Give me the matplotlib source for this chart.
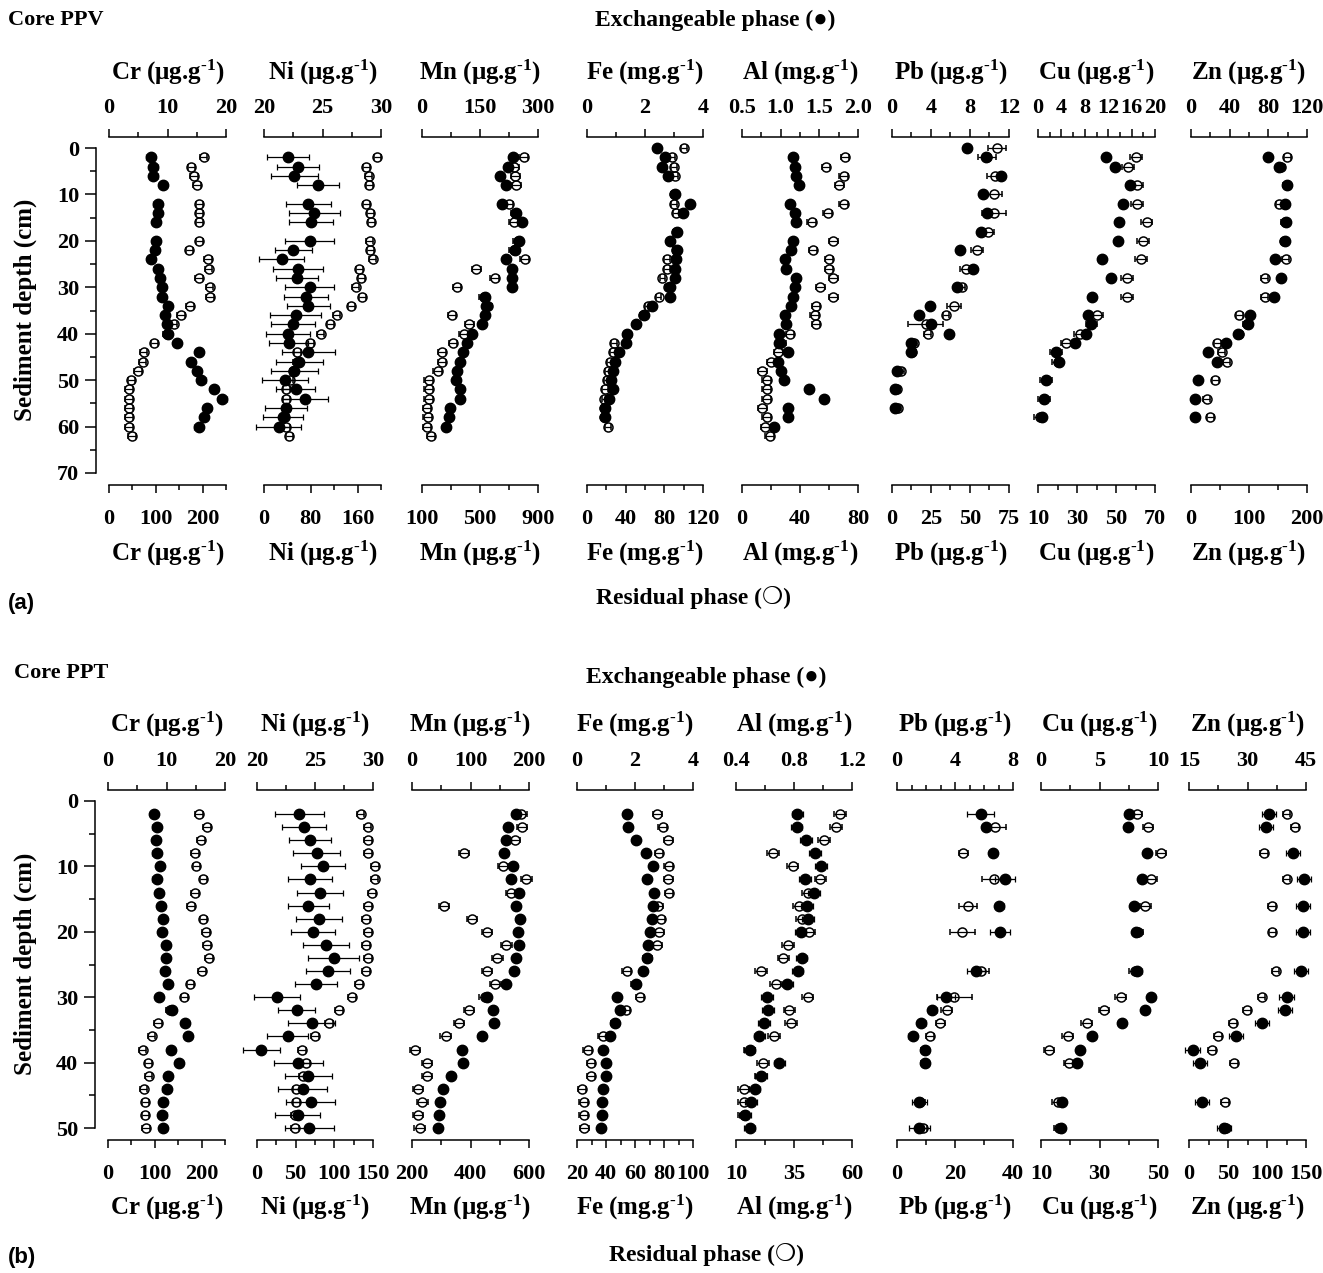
import numpy as np
import matplotlib
matplotlib.use("Agg")
import matplotlib.pyplot as plt

W, H = 1323, 1273
plt.rcParams['font.family'] = ['Liberation Serif', 'DejaVu Sans']
plt.rcParams['font.weight'] = 'bold'
plt.rcParams['mathtext.default'] = 'regular'

# ------------------------- DATA : Core PPV (a) -------------------------
A_DEPTH_STD = [2, 4, 6, 8, 12, 14, 16, 20, 22, 24, 26, 28, 30, 32, 34, 36, 38, 40,
               42, 44, 46, 48, 50, 52, 54, 56, 58, 60]
A_DEPTH_STD_RES = A_DEPTH_STD + [62]
A_DEPTH_FE = [0, 2, 4, 6, 10, 12, 14, 18, 20, 22, 24, 26, 28, 30, 32, 34, 36, 38,
              40, 42, 44, 46, 48, 50, 52, 54, 56, 58]
A_DEPTH_FE_RES = A_DEPTH_FE + [60]
A_DEPTH_PB = [0, 2, 6, 10, 14, 18, 22, 26, 30, 34, 36, 38, 40, 42, 44, 48, 52, 56]
A_DEPTH_CUZN = [2, 4, 8, 12, 16, 20, 24, 28, 32, 36, 38, 40, 42, 44, 46, 50, 54, 58]

A_CR_EX = [7.1, 7.6, 7.6, 9.2, 8.3, 8.4, 8.1, 8.0, 7.9, 7.2, 8.4, 8.7, 9.0, 9.1, 10.1, 9.6,
           9.9, 10.0, 11.6, 15.4, 14.0, 15.0, 15.8, 18.0, 19.4, 16.7, 16.3, 15.3]
A_CR_RES = [202, 176, 182, 188, 193, 193, 193, 193, 172, 212, 213, 192, 215, 216, 173, 154,
            138, 123, 97, 74, 72, 62, 48, 43, 43, 43, 43, 43, 49]
A_NI_EX = [22.05, 22.9, 22.6, 24.6, 23.8, 24.3, 24.0, 23.9, 22.5, 21.5, 22.9, 22.8, 23.9,
           23.6, 23.8, 22.7, 22.5, 22.05, 22.1, 23.8, 23.0, 22.6, 21.8, 22.7, 23.5, 21.9,
           21.65, 21.25]
A_NI_EX_ERR = [1.8, 1.8, 2.0, 1.8, 1.95, 2.2, 1.9, 2.1, 1.6, 1.9, 2.1, 1.8, 2.1, 1.9, 1.8,
               2.2, 1.9, 1.9, 1.7, 2.3, 2.0, 2.0, 2.0, 1.7, 1.95, 1.8, 1.7, 1.9]
A_NI_RES = [194, 175, 179, 180, 175, 182, 183, 181, 182, 186, 163, 166, 157, 168, 149, 124,
            113, 97, 79, 57, 56, 50, 44, 38, 38, 38, 36, 38, 43]
A_MN_EX = [235, 222, 203, 216, 207, 244, 259, 250, 240, 218, 233, 233, 234, 164, 166, 164,
           155, 129, 116, 105, 97, 91, 89, 99, 97, 73, 69, 63]
A_MN_RES = [801, 737, 744, 751, 698, 744, 732, 760, 732, 808, 475, 601, 341, 525, 553, 307,
            426, 387, 314, 238, 238, 208, 146, 146, 146, 134, 139, 134, 162]
A_FE_EX = [2.41, 2.68, 2.59, 2.79, 3.05, 3.54, 3.31, 3.10, 2.87, 3.10, 3.08, 3.02, 3.02, 2.85,
           2.85, 2.24, 1.95, 1.69, 1.38, 1.34, 1.09, 0.98, 0.89, 0.83, 0.89, 0.75, 0.63, 0.63]
A_FE_RES = [100, 88, 90, 91, 90, 90, 92, 92, 86, 92, 83, 83, 78, 84, 74, 63, 58, 51, 41, 28,
            27, 24, 22, 21, 19, 18, 18, 18, 22]
A_AL_EX = [1.16, 1.19, 1.20, 1.24, 1.12, 1.19, 1.20, 1.16, 1.13, 1.05, 1.07, 1.20, 1.18, 1.16,
           1.13, 1.05, 1.07, 0.98, 0.98, 1.10, 0.96, 1.00, 1.04, 1.37, 1.56, 1.09, 1.10, 0.91]
A_AL_RES = [71, 58, 70, 67, 70, 59, 48, 63, 49, 60, 60, 63, 54, 63, 51, 50, 51, 33, 27, 25,
            20, 14, 17, 17, 17, 14, 17, 16, 19]
A_PB_EX = [7.66, 9.66, 11.2, 9.38, 9.79, 9.1, 6.98, 8.28, 6.7, 3.88, 2.78, 3.95, 5.84, 1.99,
           1.99, 0.55, 0.27, 0.27]
A_PB_RES = [67.3, 60.9, 66.2, 65.6, 65.2, 61.3, 54.4, 47.5, 44.7, 40.0, 34.4, 21.5, 22.8,
            14.2, 13.1, 6.0, 3.2, 3.9]
A_PB_RES_ERR = [6, 6, 5, 5, 7.8, 4, 4, 4, 2, 4.5, 2, 11.5, 2, 2, 2, 2, 2, 2]
A_CU_EX = [11.7, 13.1, 15.7, 14.5, 13.8, 13.6, 10.9, 12.4, 9.3, 8.6, 9.1, 8.2, 6.4, 3.1, 3.6,
           1.3, 1.0, 0.6]
A_CU_RES = [60.1, 56.3, 60.6, 60.9, 65.7, 64.0, 62.8, 55.5, 55.5, 40.4, 37.4, 31.4, 24.6,
            19.4, 20.0, 14.0, 13.0, 11.2]
A_ZN_EX = [79.9, 91.2, 99.8, 97.7, 98.7, 97.0, 87.4, 92.9, 86.0, 61.0, 59.3, 49.0, 36.0,
           17.5, 26.7, 7.2, 4.5, 4.5]
A_ZN_RES = [166, 156, 165, 152, 162, 161, 163, 127, 127, 83, 96, 82, 45, 53, 62, 42, 27, 33]

# ------------------------- DATA : Core PPT (b) -------------------------
B_DEPTH_STD = [2, 4, 6, 8, 10, 12, 14, 16, 18, 20, 22, 24, 26, 28, 30, 32, 34, 36, 38, 40,
               42, 44, 46, 48, 50]
B_DEPTH_SUB = [2, 4, 8, 12, 16, 20, 26, 30, 32, 34, 36, 38, 40, 46, 50]

B_CR_EX = [7.9, 8.3, 8.2, 8.3, 8.9, 8.3, 8.7, 9.0, 9.4, 9.2, 9.9, 9.9, 9.7, 10.2, 8.7, 10.9,
           13.1, 13.7, 10.7, 12.1, 10.2, 10.0, 9.4, 9.3, 9.4]
B_CR_RES = [194, 212, 199, 186, 189, 204, 186, 177, 204, 209, 212, 216, 201, 176, 163, 132,
            107, 93, 74, 86, 87, 76, 80, 80, 81]
B_NI_EX = [23.66, 24.06, 24.57, 25.14, 25.71, 24.57, 25.43, 24.43, 25.34, 24.86, 25.94, 26.63,
           26.14, 25.06, 21.71, 23.43, 24.71, 22.63, 20.37, 23.57, 24.43, 23.94, 24.63, 23.51,
           24.51]
B_NI_EX_ERR = [2.1, 1.9, 1.8, 2.0, 1.9, 1.9, 2.0, 1.8, 2.0, 1.9, 2.0, 2.2, 1.9, 1.8, 2.0, 1.6,
               2.0, 1.8, 1.6, 2.1, 2.0, 2.1, 2.1, 1.95, 2.1]
B_NI_RES = [134, 143, 144, 144, 153, 152, 149, 144, 141, 144, 141, 144, 141, 132, 123, 106, 93,
            75, 58, 63, 59, 51, 51, 49, 49]
B_MN_EX = [177, 164, 160, 158, 172, 170, 183, 178, 184, 181, 183, 178, 175, 160, 128, 138, 140,
           119, 85, 87, 67, 53, 48, 47, 44]
B_MN_RES = [574, 576, 551, 377, 511, 591, 540, 309, 405, 456, 523, 492, 456, 485, 448, 395,
            361, 315, 211, 252, 252, 221, 235, 221, 226]
B_FE_EX = [1.71, 1.77, 2.02, 2.38, 2.63, 2.42, 2.65, 2.63, 2.59, 2.51, 2.46, 2.42, 2.29, 2.02,
           1.37, 1.49, 1.31, 1.14, 0.88, 1.00, 0.99, 0.91, 0.86, 0.86, 0.82]
B_FE_RES = [75.3, 79.0, 82.9, 76.5, 83.3, 82.9, 83.5, 76.0, 77.6, 76.7, 75.3, 68.5, 54.3, 60.5,
            63.4, 53.8, 46.3, 37.6, 27.3, 29.6, 29.6, 23.4, 24.6, 24.6, 25.0]
B_AL_EX = [0.823, 0.818, 0.882, 0.944, 0.985, 0.875, 0.937, 0.891, 0.898, 0.846, np.nan, 0.853,
           0.825, 0.754, 0.613, 0.619, 0.594, 0.562, 0.494, 0.699, 0.571, 0.528, 0.503, 0.464,
           0.494]
B_AL_RES = [54.7, 53.0, 48.0, 25.9, 34.4, 46.4, 41.1, 37.1, 38.3, 41.6, 32.3, 30.4, 20.9, 27.1,
            40.9, 33.0, 33.6, 26.4, 15.9, 21.6, 20.7, 13.3, 13.3, 13.3, np.nan]
B_PB_EX = [5.78, 6.13, 6.63, 7.47, 7.06, 7.11, 5.44, 3.38, 2.44, 1.67, 1.07, 1.94, 1.94, 1.53,
           1.53]
B_PB_EX_ERR = [0.93, 0.3, 0.3, 0.7, 0.3, 0.7, 0.6, 0.6, 0.3, 0.3, 0.3, 0.3, 0.3, 0.53, 0.73]
B_PB_RES = [np.nan, 33.7, 22.9, 33.4, 24.6, 22.5, 29.1, 19.8, 17.1, 14.9, 11.4, 9.7, 9.7, 8.0,
            9.1]
B_PB_RES_ERR = [0, 4, 1.5, 4.2, 3.1, 4.3, 2.6, 5.9, 2, 1.5, 1.5, 1.5, 1.5, 1.5, 1.2]
B_CU_EX = [7.5, 7.44, 9.09, 8.66, 7.95, 8.15, 8.24, 9.38, 8.86, 6.93, 4.32, 3.32, 3.1, 1.76, 1.7]
B_CU_RES = [42.8, 46.6, 51.1, 47.7, 45.7, 43.2, 42.0, 37.2, 31.5, 25.6, 19.1, 12.8, 19.5, 15.7,
            16.1]
B_ZN_EX = [35.6, 34.7, 41.6, 44.6, 44.3, 44.3, 43.8, 40.0, 39.7, 33.6, 27.1, 15.9, 17.7, 18.4,
           23.9]
B_ZN_RES = [125, 136, 96, 125, 106, 107, 111, 93, 74, 56, 37, 29.6, 58, 46, 48]

UG = '(μg.g$^{\u2010 1}$)'
MG = '(mg.g$^{\u2010 1}$)'

# panel specs: title, top axis (lim, labelled ticks, labels, minor ticks), bottom axis, data
PANELS_A = [
    ('Cr ' + UG, (0, 20), [0, 10, 20], ['0', '10', '20'], [5, 15],
     (0, 250), [0, 100, 200], ['0', '100', '200'], [50, 150, 250],
     (A_DEPTH_STD, A_CR_EX, 0.7), (A_DEPTH_STD_RES, A_CR_RES, 8)),
    ('Ni ' + UG, (20, 30), [20, 25, 30], ['20', '25', '30'], [22.5, 27.5],
     (0, 200), [0, 80, 160], ['0', '80', '160'], [40, 120, 200],
     (A_DEPTH_STD, A_NI_EX, A_NI_EX_ERR), (A_DEPTH_STD_RES, A_NI_RES, 6)),
    ('Mn ' + UG, (0, 300), [0, 150, 300], ['0', '150', '300'], [75, 225],
     (100, 900), [100, 500, 900], ['100', '500', '900'], [300, 700],
     (A_DEPTH_STD, A_MN_EX, 9), (A_DEPTH_STD_RES, A_MN_RES, 30)),
    ('Fe ' + MG, (0, 4), [0, 2, 4], ['0', '2', '4'], [1, 3],
     (0, 120), [0, 40, 80, 120], ['0', '40', '80', '120'], [20, 60, 100],
     (A_DEPTH_FE, A_FE_EX, 0.12), (A_DEPTH_FE_RES, A_FE_RES, 3)),
    ('Al ' + MG, (0.5, 2.0), [0.5, 1.0, 1.5, 2.0], ['0.5', '1.0', '1.5', '2.0'], [0.75, 1.25, 1.75],
     (0, 80), [0, 40, 80], ['0', '40', '80'], [20, 60],
     (A_DEPTH_STD, A_AL_EX, 0.05), (A_DEPTH_STD_RES, A_AL_RES, 3)),
    ('Pb ' + UG, (0, 12), [0, 4, 8, 12], ['0', '4', '8', '12'], [2, 6, 10],
     (0, 75), [0, 25, 50, 75], ['0', '25', '50', '75'], [12.5, 37.5, 62.5],
     (A_DEPTH_PB, A_PB_EX, 0.3), (A_DEPTH_PB, A_PB_RES, A_PB_RES_ERR)),
    ('Cu ' + UG, (0, 20), [0, 4, 8, 12, 16, 20], ['0', '4', '8', '12', '16', '20'],
     [2, 6, 10, 14, 18],
     (10, 70), [10, 30, 50, 70], ['10', '30', '50', '70'], [20, 40, 60],
     (A_DEPTH_CUZN, A_CU_EX, 0.5), (A_DEPTH_CUZN, A_CU_RES, 3)),
    ('Zn ' + UG, (0, 120), [0, 40, 80, 120], ['0', '40', '80', '120'], [20, 60, 100],
     (0, 200), [0, 100, 200], ['0', '100', '200'], [50, 150],
     (A_DEPTH_CUZN, A_ZN_EX, 2.5), (A_DEPTH_CUZN, A_ZN_RES, 6)),
]

PANELS_B = [
    ('Cr ' + UG, (0, 20), [0, 10, 20], ['0', '10', '20'], [5, 15],
     (0, 250), [0, 100, 200], ['0', '100', '200'], [50, 150, 250],
     (B_DEPTH_STD, B_CR_EX, 0.7), (B_DEPTH_STD, B_CR_RES, 8)),
    ('Ni ' + UG, (20, 30), [20, 25, 30], ['20', '25', '30'], [22.5, 27.5],
     (0, 150), [0, 50, 100, 150], ['0', '50', '100', '150'], [25, 75, 125],
     (B_DEPTH_STD, B_NI_EX, B_NI_EX_ERR), (B_DEPTH_STD, B_NI_RES, 5)),
    ('Mn ' + UG, (0, 200), [0, 100, 200], ['0', '100', '200'], [50, 150],
     (200, 600), [200, 400, 600], ['200', '400', '600'], [300, 500],
     (B_DEPTH_STD, B_MN_EX, 6), (B_DEPTH_STD, B_MN_RES, 18)),
    ('Fe ' + MG, (0, 4), [0, 2, 4], ['0', '2', '4'], [1, 3],
     (20, 100), [20, 40, 60, 80, 100], ['20', '40', '60', '80', '100'], [30, 50, 70, 90],
     (B_DEPTH_STD, B_FE_EX, 0.1), (B_DEPTH_STD, B_FE_RES, 3)),
    ('Al ' + MG, (0.4, 1.2), [0.4, 0.8, 1.2], ['0.4', '0.8', '1.2'], [0.6, 1.0],
     (10, 60), [10, 35, 60], ['10', '35', '60'], [22.5, 47.5],
     (B_DEPTH_STD, B_AL_EX, 0.04), (B_DEPTH_STD, B_AL_RES, 2.5)),
    ('Pb ' + UG, (0, 8), [0, 4, 8], ['0', '4', '8'], [1, 2, 3, 5, 6, 7],
     (0, 40), [0, 20, 40], ['0', '20', '40'], [10, 30],
     (B_DEPTH_SUB, B_PB_EX, B_PB_EX_ERR), (B_DEPTH_SUB, B_PB_RES, B_PB_RES_ERR)),
    ('Cu ' + UG, (0, 10), [0, 5, 10], ['0', '5', '10'], [2.5, 7.5],
     (10, 50), [10, 30, 50], ['10', '30', '50'], [20, 40],
     (B_DEPTH_SUB, B_CU_EX, 0.35), (B_DEPTH_SUB, B_CU_RES, 1.8)),
    ('Zn ' + UG, (15, 45), [15, 30, 45], ['15', '30', '45'], [22.5, 37.5],
     (0, 150), [0, 50, 100, 150], ['0', '50', '100', '150'], [25, 75, 125],
     (B_DEPTH_SUB, B_ZN_EX, 1.8), (B_DEPTH_SUB, B_ZN_RES, 5)),
]

# ------------------------- LAYOUT (pixels) -------------------------
XPOS_A = [(109, 226), (264, 381), (422, 538), (587, 703), (742, 858), (892, 1009),
          (1038, 1155), (1191, 1307)]
XPOS_B = [(108, 225), (257, 373), (412, 529), (577, 693), (736, 852), (897, 1013),
          (1041, 1158), (1189, 1306)]

fig = plt.figure(figsize=(W / 100, H / 100), dpi=100)
PT = 0.72  # points per pixel


def ftxt(x, y, s, **kw):
    fig.text(x / W, 1 - y / H, s, **kw)


def draw_core(panels, xpos, y0, y1, dmax, dticks, dminor, top_off, bot_off,
              title_top_y, title_bot_y):
    for i, (p, (xa, xb)) in enumerate(zip(panels, xpos)):
        (title, tlim, tmaj, tlab, tmin, blim, bmaj, blab, bmin, ex, res) = p
        ax = fig.add_axes([xa / W, 1 - y1 / H, (xb - xa) / W, (y1 - y0) / H])
        ax.patch.set_visible(False)
        ax.set_ylim(dmax, 0)
        ax.set_xlim(*tlim)
        ax2 = ax.twiny()
        ax2.set_xlim(*blim)
        ax.xaxis.tick_top()
        ax2.xaxis.tick_bottom()
        for s in ('bottom', 'right'):
            ax.spines[s].set_visible(False)
        for s in ('top', 'left', 'right'):
            ax2.spines[s].set_visible(False)
        ax.spines['top'].set_position(('outward', top_off * PT))
        ax2.spines['bottom'].set_position(('outward', bot_off * PT))
        ax.spines['top'].set_linewidth(1.1)
        ax2.spines['bottom'].set_linewidth(1.1)

        ax.set_xticks(tmaj)
        ax.set_xticklabels(tlab)
        ax.set_xticks(tmin, minor=True)
        ax2.set_xticks(bmaj)
        ax2.set_xticklabels(blab)
        ax2.set_xticks(bmin, minor=True)
        for a, top in ((ax, True), (ax2, False)):
            a.tick_params(axis='x', which='major', direction='out', length=6, width=1.1,
                          pad=8 if top else 11, labelsize=16, top=top, bottom=not top,
                          labeltop=top, labelbottom=not top)
            a.tick_params(axis='x', which='minor', direction='out', length=3.5, width=1.1,
                          top=top, bottom=not top)
        for lab in ax.get_xticklabels() + ax2.get_xticklabels():
            lab.set_fontweight('bold')

        if i == 0:
            ax.spines['left'].set_position(('outward', 13 * PT))
            ax.spines['left'].set_linewidth(1.1)
            ax.set_yticks(dticks)
            ax.set_yticklabels([str(d) for d in dticks])
            ax.set_yticks(dminor, minor=True)
            ax.tick_params(axis='y', which='major', direction='out', length=8, width=1.1,
                           pad=4, labelsize=16)
            ax.tick_params(axis='y', which='minor', direction='out', length=4, width=1.1)
            for lab in ax.get_yticklabels():
                lab.set_fontweight('bold')
        else:
            ax.spines['left'].set_visible(False)
            ax.tick_params(axis='y', which='both', left=False, labelleft=False)
        ax2.tick_params(axis='y', which='both', left=False, labelleft=False,
                        right=False, labelright=False)

        dep, val, err = ex
        ax.errorbar(val, dep, xerr=err, fmt='o', ms=7.5, mfc='black', mec='black',
                    ecolor='black', elinewidth=0.9, capsize=2.5, capthick=0.9,
                    clip_on=False, zorder=3)
        dep, val, err = res
        ax2.errorbar(val, dep, xerr=err, fmt='o', ms=6.5, mfc='none', mec='black',
                     mew=1.1, ecolor='black', elinewidth=0.9, capsize=2.5, capthick=0.9,
                     clip_on=False, zorder=4)

        xc = (xa + xb) / 2
        ftxt(xc, title_top_y, title, ha='center', va='center', fontsize=18,
             fontweight='bold')
        ftxt(xc, title_bot_y, title, ha='center', va='center', fontsize=18,
             fontweight='bold')


draw_core(PANELS_A, XPOS_A, 148, 473, 70, [0, 10, 20, 30, 40, 50, 60, 70],
          [5, 15, 25, 35, 45, 55, 65], 11, 12, 72, 553)
draw_core(PANELS_B, XPOS_B, 801, 1128, 50, [0, 10, 20, 30, 40, 50],
          [5, 15, 25, 35, 45], 11, 12, 724, 1207)

# depth labels
ftxt(25, 310, 'Sediment depth (cm)', rotation=90, ha='center', va='center',
     fontsize=18, fontweight='bold')
ftxt(25, 964, 'Sediment depth (cm)', rotation=90, ha='center', va='center',
     fontsize=18, fontweight='bold')

# headers
ftxt(8, 20, 'Core PPV', ha='left', va='center', fontsize=16, fontweight='bold')
ftxt(715, 20, 'Exchangeable phase (\u25CF)', ha='center', va='center', fontsize=17,
     fontweight='bold')
ftxt(694, 598, 'Residual phase (\u274D)', ha='center', va='center', fontsize=17,
     fontweight='bold')
ftxt(8, 604, '(a)', ha='left', va='center', fontsize=16, fontweight='bold',
     family='Liberation Sans')

ftxt(14, 673, 'Core PPT', ha='left', va='center', fontsize=16, fontweight='bold')
ftxt(706, 677, 'Exchangeable phase (\u25CF)', ha='center', va='center', fontsize=17,
     fontweight='bold')
ftxt(706, 1255, 'Residual phase (\u274D)', ha='center', va='center', fontsize=17,
     fontweight='bold')
ftxt(8, 1258, '(b)', ha='left', va='center', fontsize=16, fontweight='bold',
     family='Liberation Sans')

fig.savefig('out.png', dpi=100)
